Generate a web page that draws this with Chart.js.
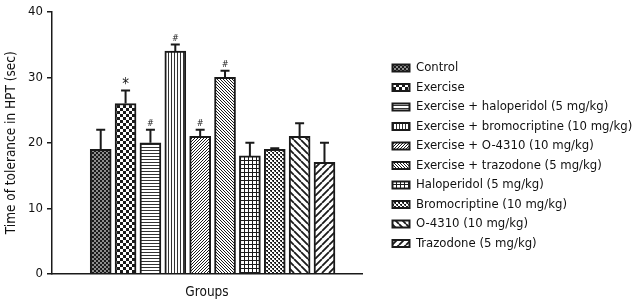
<!DOCTYPE html>
<html lang="en">
<head>
<meta charset="UTF-8">
<title>Time of tolerance in HPT</title>
<script src="https://cdn.jsdelivr.net/npm/chart.js@4"></script>
<style>
  html, body { margin: 0; padding: 0; background: #fff; }
</style>
</head>
<body>
<canvas id="hptChart" width="632" height="301"></canvas>
<script>
// values
const groups = [
  'Control',
  'Exercise',
  'Exercise + haloperidol (5 mg/kg)',
  'Exercise + bromocriptine (10 mg/kg)',
  'Exercise + O-4310 (10 mg/kg)',
  'Exercise + trazodone (5 mg/kg)',
  'Haloperidol (5 mg/kg)',
  'Bromocriptine (10 mg/kg)',
  'O-4310 (10 mg/kg)',
  'Trazodone (5 mg/kg)'
];
const meanTimes = [19, 26, 20, 34, 21, 30, 18, 19, 21, 17];
const semTimes = [3, 2, 2, 1, 1, 1, 2, 0.15, 2, 3];
const sigMarks = ['', '*', '#', '#', '#', '#', '', '', '', ''];
const yTicks = [0, 10, 20, 30, 40];

const patternKinds = ['dense', 'checker', 'hlines', 'vlines', 'fineUp', 'fineDown', 'grid', 'mottled', 'wideDown', 'wideUp'];
const ink = '#1a1a1a';
const fontFamily = "'DejaVu Sans Condensed', 'Liberation Sans', sans-serif";

// hatch fills, one per group
function makePattern(kind) {
  const c = document.createElement('canvas');
  const g = c.getContext('2d');
  const px = (x, y, col) => { g.fillStyle = col || ink; g.fillRect(x, y, 1, 1); };
  let n = 4;
  if (kind === 'checker') n = 6;
  if (kind === 'hlines' || kind === 'vlines' || kind === 'fineUp' || kind === 'fineDown') n = 3;
  if (kind === 'wideDown' || kind === 'wideUp') n = 7;
  c.width = n; c.height = n;
  g.fillStyle = '#fff';
  g.fillRect(0, 0, n, n);
  if (kind === 'dense') {
    g.fillStyle = '#8c8c8c';
    g.fillRect(0, 0, n, n);
    g.fillStyle = ink;
    g.fillRect(0, 0, 2, 2);
    g.fillRect(2, 2, 2, 2);
  } else if (kind === 'checker') {
    g.fillStyle = ink;
    g.fillRect(0, 0, 3, 3);
    g.fillRect(3, 3, 3, 3);
  } else if (kind === 'hlines') {
    g.fillStyle = '#333';
    g.fillRect(0, 0, n, 1);
  } else if (kind === 'vlines') {
    g.fillStyle = '#333';
    g.fillRect(0, 0, 1, n);
  } else if (kind === 'fineUp') {
    px(2, 0); px(1, 1); px(0, 2);
  } else if (kind === 'fineDown') {
    px(0, 0); px(1, 1); px(2, 2);
  } else if (kind === 'grid') {
    g.fillStyle = ink;
    g.fillRect(0, 0, n, 1);
    g.fillRect(0, 0, 1, n);
  } else if (kind === 'mottled') {
    px(0, 0); px(1, 0); px(1, 1); px(2, 2); px(3, 2); px(3, 3);
    px(0, 1, '#888'); px(2, 3, '#888');
  } else {
    g.strokeStyle = ink;
    g.lineWidth = 1.8;
    g.beginPath();
    for (let k = -1; k <= 1; k++) {
      if (kind === 'wideDown') {
        g.moveTo(k * n, 0); g.lineTo(k * n + n, n);
      } else {
        g.moveTo(k * n, n); g.lineTo(k * n + n, 0);
      }
    }
    g.stroke();
  }
  return g.createPattern(c, 'repeat');
}

// upward SEM bars and significance marks
const errorBars = {
  id: 'errorBars',
  afterDatasetsDraw(chart) {
    const ctx = chart.ctx;
    const yScale = chart.scales.y;
    ctx.save();
    ctx.strokeStyle = ink;
    ctx.fillStyle = ink;
    ctx.lineWidth = 2;
    chart.data.datasets.forEach((ds, i) => {
      const bar = chart.getDatasetMeta(i).data[0];
      if (!bar) return;
      const top = yScale.getPixelForValue(meanTimes[i] + semTimes[i]);
      ctx.beginPath();
      ctx.moveTo(bar.x, bar.y);
      ctx.lineTo(bar.x, top);
      ctx.moveTo(bar.x - 4.5, top);
      ctx.lineTo(bar.x + 4.5, top);
      ctx.stroke();
      if (sigMarks[i]) {
        ctx.textAlign = 'center';
        ctx.textBaseline = 'alphabetic';
        if (sigMarks[i] === '*') {
          ctx.font = '15px ' + fontFamily;
          ctx.fillText('*', bar.x, top - 1);
        } else {
          ctx.font = 'italic 9px ' + fontFamily;
          ctx.fillText('#', bar.x, top - 4);
        }
      }
    });
    ctx.restore();
  }
};

Chart.defaults.font.family = fontFamily;
Chart.defaults.color = '#111';

const datasets = groups.map((name, i) => ({
  label: name,
  data: [{ x: i + 1, y: meanTimes[i] }],
  backgroundColor: makePattern(patternKinds[i]),
  borderColor: ink,
  borderWidth: 2,
  borderSkipped: 'bottom',
  barThickness: 21,
  grouped: false
}));

new Chart(document.getElementById('hptChart'), {
  type: 'bar',
  data: { datasets },
  plugins: [errorBars],
  options: {
    responsive: false,
    animation: false,
    layout: { padding: { top: 0, right: 0, bottom: 0, left: 0 } },
    plugins: {
      tooltip: { enabled: false },
      legend: {
        position: 'right',
        align: 'center',
        maxWidth: 246,
        title: { display: true, text: ' ', padding: 0, font: { size: 10.5, lineHeight: 1 } },
        labels: {
          boxWidth: 17,
          boxHeight: 7,
          padding: 6.5,
          color: '#111',
          font: { size: 13 }
        }
      }
    },
    scales: {
      x: {
        type: 'linear',
        min: 0.08,
        max: 10.47,
        ticks: { display: false },
        grid: { display: false, drawTicks: false },
        border: { display: true, color: ink, width: 1.5 },
        title: { display: true, text: 'Groups', font: { size: 13.5 }, padding: { top: 11, bottom: 0 } }
      },
      y: {
        min: 0,
        max: 40,
        afterBuildTicks: (s) => { s.ticks = yTicks.map(v => ({ value: v })); },
        ticks: { padding: 4, font: { size: 13 }, color: '#111' },
        grid: { display: true, drawOnChartArea: false, drawTicks: true, tickLength: 5, color: ink, lineWidth: 1.5 },
        border: { display: true, color: ink, width: 1.5 },
        title: { display: true, text: 'Time of tolerance in HPT (sec)', font: { size: 13.5 }, padding: { top: 3, bottom: 0 } },
        afterFit: (s) => { s.width = 52; }
      },
      yPad: {
        type: 'linear',
        position: 'right',
        display: true,
        ticks: { display: false },
        grid: { display: false, drawTicks: false },
        border: { display: false },
        afterFit: (s) => { s.width = Math.max(0, s.chart.width - 362 - s.chart.legend.width); }
      }
    }
  }
});
</script>
</body>
</html>
